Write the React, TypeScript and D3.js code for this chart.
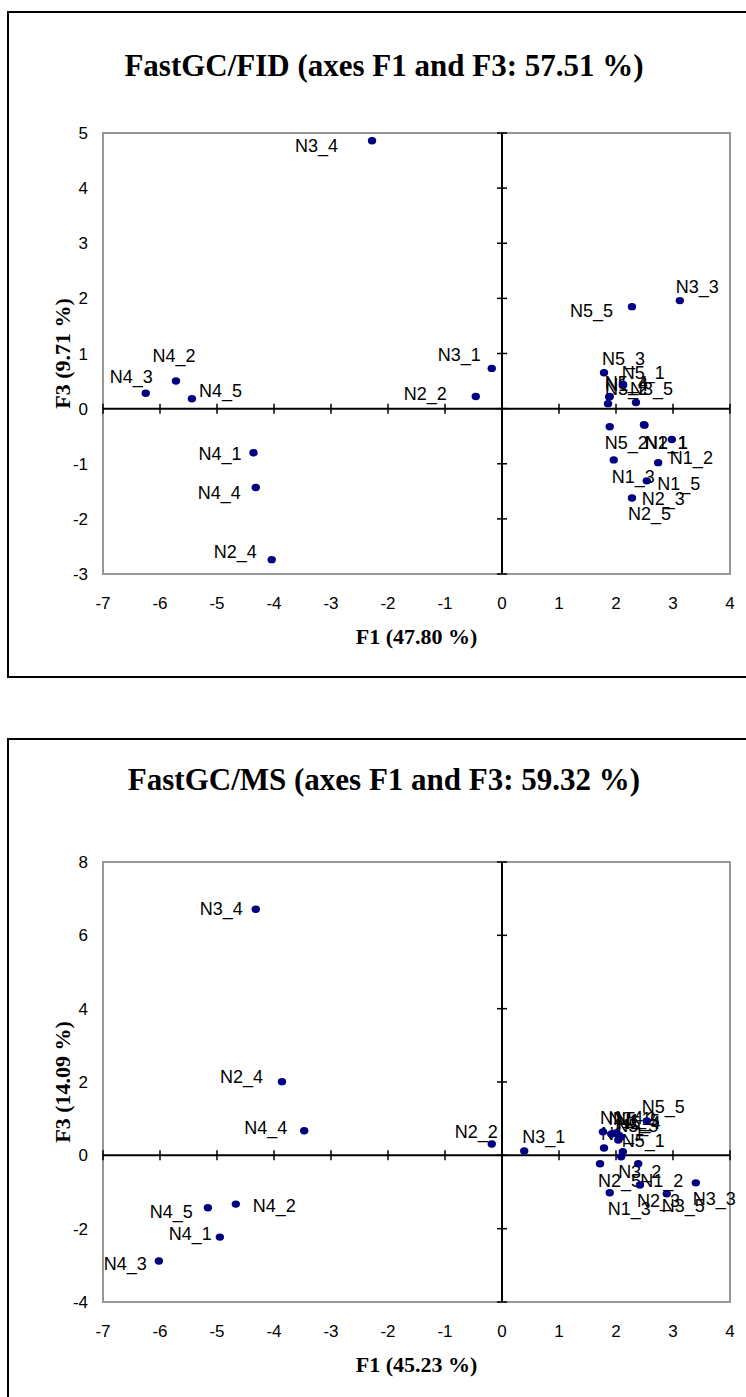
import React from 'react';
import * as d3 from 'd3';

// Observation names shared by both maps
const NAMES = [
  'N1_1', 'N1_2', 'N1_3', 'N1_4', 'N1_5',
  'N2_1', 'N2_2', 'N2_3', 'N2_4', 'N2_5',
  'N3_1', 'N3_2', 'N3_3', 'N3_4', 'N3_5',
  'N4_1', 'N4_2', 'N4_3', 'N4_4', 'N4_5',
  'N5_1', 'N5_2', 'N5_3', 'N5_4', 'N5_5',
];

// FastGC/FID scores on F1 and F3
const FID_F1 = [
  2.5, 2.98, 1.96, 1.88, 2.74,
  2.49, -0.46, 2.54, -4.04, 2.28,
  -0.18, 1.86, 3.12, -2.28, 2.35,
  -4.36, -5.72, -6.25, -4.32, -5.44,
  2.12, 1.89, 1.79, 1.89, 2.28,
];
const FID_F3 = [
  -0.3, -0.56, -0.93, 0.21, -0.98,
  -0.29, 0.22, -1.31, -2.74, -1.62,
  0.73, 0.09, 1.96, 4.86, 0.11,
  -0.8, 0.5, 0.28, -1.43, 0.18,
  0.44, -0.33, 0.65, 0.22, 1.85,
];

// FastGC/MS scores on F1 and F3
const MS_F1 = [
  1.79, 2.39, 1.89, 1.77, 2.05,
  1.92, -0.18, 2.42, -3.86, 1.72,
  0.39, 2.09, 3.4, -4.32, 2.89,
  -4.95, -4.67, -6.02, -3.47, -5.16,
  2.12, 2.0, 2.04, 2.08, 2.54,
];
const MS_F3 = [
  0.2, -0.23, -1.02, 0.64, 0.55,
  0.58, 0.31, -0.81, 2.01, -0.23,
  0.12, -0.04, -0.75, 6.71, -1.05,
  -2.23, -1.33, -2.88, 0.67, -1.43,
  0.1, 0.61, 0.42, 0.5, 0.94,
];

const X_TICKS = [-7, -6, -5, -4, -3, -2, -1, 0, 1, 2, 3, 4];
const FID_Y_TICKS = [-3, -2, -1, 0, 1, 2, 3, 4, 5];
const MS_Y_TICKS = [-4, -2, 0, 2, 4, 6, 8];

type Anchor = 'start' | 'middle' | 'end';
type Nudge = [Anchor, number, number];

// Data-label placement around each marker (anchor, dx, baseline dy)
const FID_LABELS: Record<string, Nudge> = {
  N1_1: ['start', 0, 24], N1_2: ['start', -2, 25], N1_3: ['start', -2, 23],
  N1_4: ['start', -4, -6], N1_5: ['start', -1, 27],
  N2_1: ['start', 1, 24], N2_2: ['end', -29, 4], N2_3: ['start', -5, 24],
  N2_4: ['end', -15, -2], N2_5: ['start', -4, 22],
  N3_1: ['end', -11, -7], N3_2: ['start', -3, -9], N3_3: ['start', -4, -8],
  N3_4: ['end', -34, 11], N3_5: ['start', -6, -8],
  N4_1: ['end', -12, 7], N4_2: ['middle', -2, -19], N4_3: ['end', 7, -10],
  N4_4: ['end', -15, 12], N4_5: ['start', 7, -2],
  N5_1: ['start', -1, -5], N5_2: ['start', -5, 22], N5_3: ['start', -2, -8],
  N5_4: ['start', -5, -7], N5_5: ['end', -19, 10],
};

const MS_LABELS: Record<string, Nudge> = {
  N1_1: ['start', -3, -8], N1_2: ['start', 2, 23], N1_3: ['start', -2, 22],
  N1_4: ['start', -3, -8], N1_5: ['start', -2, -8],
  N2_1: ['start', -3, -9], N2_2: ['end', 6, -6], N2_3: ['start', -3, 22],
  N2_4: ['end', -19, 1], N2_5: ['start', -2, 23],
  N3_1: ['start', -2, -8], N3_2: ['start', -3, 21], N3_3: ['start', -3, 22],
  N3_4: ['end', -13, 6], N3_5: ['start', -5, 18],
  N4_1: ['end', -8, 3], N4_2: ['start', 17, 8], N4_3: ['end', -12, 9],
  N4_4: ['end', -17, 3], N4_5: ['end', -15, 10],
  N5_1: ['start', -1, -5], N5_2: ['start', -3, -8], N5_3: ['start', -3, -8],
  N5_4: ['start', -3, -8], N5_5: ['start', -5, -8],
};

const SERIF = '"Liberation Serif", "Times New Roman", serif';
const SANS = '"Liberation Sans", Arial, sans-serif';
const NAVY = '#000080';

interface PanelProps {
  title: string;
  xTitle: string;
  yTitle: string;
  f1: number[];
  f3: number[];
  yTicks: number[];
  labels: Record<string, Nudge>;
  frameTop: number;
  titleY: number;
  plotTop: number;
  plotBottom: number;
}

const PLOT_LEFT = 103;
const PLOT_RIGHT = 730;

function Panel(p: PanelProps) {
  const x = d3.scaleLinear().domain([X_TICKS[0], X_TICKS[X_TICKS.length - 1]]).range([PLOT_LEFT, PLOT_RIGHT]);
  const y = d3
    .scaleLinear()
    .domain([p.yTicks[0], p.yTicks[p.yTicks.length - 1]])
    .range([p.plotBottom, p.plotTop]);
  const x0 = x(0);
  const y0 = y(0);
  const tick = 5;
  const points = NAMES.map((name, i) => ({ name, cx: x(p.f1[i]), cy: y(p.f3[i]) }));
  const midX = (PLOT_LEFT + PLOT_RIGHT) / 2;
  const midY = (p.plotTop + p.plotBottom) / 2;

  return (
    <g>
      <rect x={8} y={p.frameTop} width={760} height={665} fill="#fff" stroke="#000" strokeWidth={2} />
      <text x={384} y={p.titleY} textAnchor="middle" fontFamily={SERIF} fontWeight="bold" fontSize={31}>
        {p.title}
      </text>
      <rect
        x={PLOT_LEFT}
        y={p.plotTop}
        width={PLOT_RIGHT - PLOT_LEFT}
        height={p.plotBottom - p.plotTop}
        fill="#fff"
        stroke="#969696"
        strokeWidth={2}
      />
      {/* origin axes */}
      <line x1={PLOT_LEFT} x2={PLOT_RIGHT} y1={y0} y2={y0} stroke="#000" strokeWidth={2} />
      <line x1={x0} x2={x0} y1={p.plotTop} y2={p.plotBottom} stroke="#000" strokeWidth={2} />
      {X_TICKS.map((t) => (
        <line key={'xt' + t} x1={x(t)} x2={x(t)} y1={y0 - tick} y2={y0 + tick} stroke="#000" strokeWidth={1.5} />
      ))}
      {p.yTicks.map((t) => (
        <line key={'yt' + t} x1={x0 - tick} x2={x0 + tick} y1={y(t)} y2={y(t)} stroke="#000" strokeWidth={1.5} />
      ))}
      {/* tick labels */}
      {X_TICKS.map((t) => (
        <text key={'xl' + t} x={x(t)} y={p.plotBottom + 35} textAnchor="middle" fontFamily={SANS} fontSize={17}>
          {t}
        </text>
      ))}
      {p.yTicks.map((t) => (
        <text key={'yl' + t} x={88} y={y(t) + 6} textAnchor="end" fontFamily={SANS} fontSize={17}>
          {t}
        </text>
      ))}
      {/* axis titles */}
      <text x={midX} y={p.plotBottom + 70} textAnchor="middle" fontFamily={SERIF} fontWeight="bold" fontSize={22}>
        {p.xTitle}
      </text>
      <text
        transform={`translate(70,${midY}) rotate(-90)`}
        textAnchor="middle"
        fontFamily={SERIF}
        fontWeight="bold"
        fontSize={22}
      >
        {p.yTitle}
      </text>
      {/* observation labels, then markers */}
      {points.map((d) => {
        const [anchor, dx, dy] = p.labels[d.name];
        return (
          <text key={'lab' + d.name} x={d.cx + dx} y={d.cy + dy} textAnchor={anchor} fontFamily={SANS} fontSize={18}>
            {d.name}
          </text>
        );
      })}
      {points.map((d) => (
        <ellipse key={'pt' + d.name} cx={d.cx} cy={d.cy} rx={4.2} ry={3.7} fill={NAVY} />
      ))}
    </g>
  );
}

export default function App() {
  return (
    <svg
      width={746}
      height={1397}
      viewBox="0 0 746 1397"
      style={{ position: 'absolute', left: 0, top: 0, background: '#fff' }}
    >
      <rect x={0} y={0} width={746} height={1397} fill="#fff" />
      <Panel
        title="FastGC/FID (axes F1 and F3: 57.51 %)"
        xTitle="F1 (47.80 %)"
        yTitle="F3 (9.71 %)"
        f1={FID_F1}
        f3={FID_F3}
        yTicks={FID_Y_TICKS}
        labels={FID_LABELS}
        frameTop={12}
        titleY={76}
        plotTop={133}
        plotBottom={574}
      />
      <Panel
        title="FastGC/MS (axes F1 and F3: 59.32 %)"
        xTitle="F1 (45.23 %)"
        yTitle="F3 (14.09 %)"
        f1={MS_F1}
        f3={MS_F3}
        yTicks={MS_Y_TICKS}
        labels={MS_LABELS}
        frameTop={739}
        titleY={790}
        plotTop={862}
        plotBottom={1302}
      />
    </svg>
  );
}
